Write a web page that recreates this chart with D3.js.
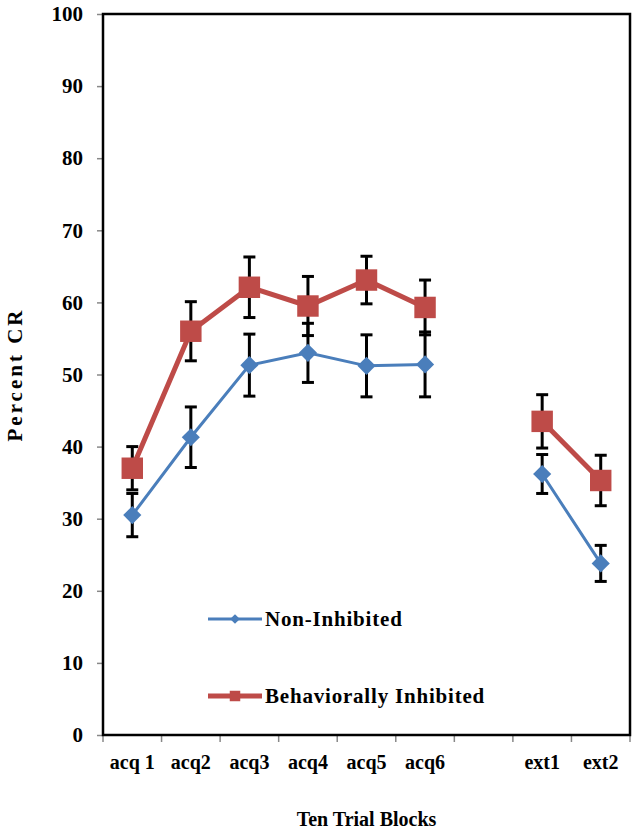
<!DOCTYPE html>
<html>
<head>
<meta charset="utf-8">
<script src="https://cdn.jsdelivr.net/npm/d3@7"></script>
<style>
  body { margin: 0; background: #fff; }
  text { font-family: "Liberation Serif", "DejaVu Serif", serif; font-weight: bold; fill: #000; }
</style>
</head>
<body>
<div id="chart-area"></div>
<script>
// Data
const categories = ["acq 1", "acq2", "acq3", "acq4", "acq5", "acq6", "", "ext1", "ext2"];
const nonInhibited = [30.5, 41.3, 51.3, 53.0, 51.2, 51.4, null, 36.2, 23.8];
const nonInhibitedErr = [3.0, 4.2, 4.3, 4.1, 4.3, 4.5, null, 2.7, 2.5];
const inhibited = [37.0, 56.0, 62.1, 59.5, 63.1, 59.3, null, 43.5, 35.3];
const inhibitedErr = [3.0, 4.1, 4.2, 4.1, 3.3, 3.8, null, 3.7, 3.5];
const yTicks = [0, 10, 20, 30, 40, 50, 60, 70, 80, 90, 100];

const width = 638, height = 833;
const margin = { top: 14, right: 8, bottom: 98, left: 103 };
const innerW = width - margin.left - margin.right;
const innerH = height - margin.top - margin.bottom;

const svg = d3.select("#chart-area").append("svg")
    .attr("width", width)
    .attr("height", height);

const g = svg.append("g")
    .attr("transform", `translate(${margin.left},${margin.top})`);

// Scales
const x = d3.scaleBand().domain(d3.range(categories.length)).range([0, innerW]);
const y = d3.scaleLinear().domain([0, 100]).range([innerH, 0]);
const cx = i => x(i) + x.bandwidth() / 2;

// Axes
const yAxis = g.append("g")
    .call(d3.axisLeft(y).tickValues(yTicks).tickSize(6).tickPadding(14));
const xAxis = g.append("g")
    .attr("transform", `translate(0,${innerH})`)
    .call(d3.axisBottom(x).tickSize(0).tickFormat(i => categories[i]).tickPadding(20));

yAxis.select(".domain").remove();
xAxis.select(".domain").remove();
yAxis.selectAll("text").style("font-size", "21px");
xAxis.selectAll("text").style("font-size", "20px");
yAxis.selectAll("line").attr("stroke", "#888").attr("stroke-width", 1.5);

// tick marks between categories on x axis
g.append("g").selectAll("line")
    .data(d3.range(categories.length + 1))
    .enter().append("line")
    .attr("x1", i => i * x.step())
    .attr("x2", i => i * x.step())
    .attr("y1", innerH)
    .attr("y2", innerH + 7)
    .attr("stroke", "#888")
    .attr("stroke-width", 1.5);

// plot frame
g.append("rect")
    .attr("width", innerW).attr("height", innerH)
    .attr("fill", "none").attr("stroke", "#000").attr("stroke-width", 2.5);

// Series
const series = [
    { name: "Non-Inhibited", values: nonInhibited, err: nonInhibitedErr, color: "#4a7ebb", lw: 3, shape: "diamond" },
    { name: "Behaviorally Inhibited", values: inhibited, err: inhibitedErr, color: "#be4b48", lw: 5, shape: "square" }
];

// error bars
series.forEach(s => {
    const eb = g.append("g");
    s.values.forEach((v, i) => {
        if (v == null) return;
        const e = s.err[i];
        eb.append("line")
            .attr("x1", cx(i)).attr("x2", cx(i))
            .attr("y1", y(v - e)).attr("y2", y(v + e))
            .attr("stroke", "#000").attr("stroke-width", 3);
        [v - e, v + e].forEach(t => {
            eb.append("line")
                .attr("x1", cx(i) - 6).attr("x2", cx(i) + 6)
                .attr("y1", y(t)).attr("y2", y(t))
                .attr("stroke", "#000").attr("stroke-width", 3);
        });
    });
});

const line = d3.line()
    .defined(d => d.v != null)
    .x(d => cx(d.i))
    .y(d => y(d.v));

series.forEach(s => {
    const pts = s.values.map((v, i) => ({ i, v }));
    g.append("path")
        .datum(pts)
        .attr("fill", "none")
        .attr("stroke", s.color)
        .attr("stroke-width", s.lw)
        .attr("d", line);

    const sym = s.shape === "diamond"
        ? d3.symbol().type(d3.symbolDiamond2).size(210)
        : d3.symbol().type(d3.symbolSquare).size(460);

    g.selectAll(null)
        .data(pts.filter(d => d.v != null))
        .enter().append("path")
        .attr("transform", d => `translate(${cx(d.i)},${y(d.v)})`)
        .attr("d", sym)
        .attr("fill", s.color);
});

// Legend
const legend = svg.append("g");
const legendY = [619, 696];
series.forEach((s, k) => {
    const lg = legend.append("g").attr("transform", `translate(208,${legendY[k]})`);
    lg.append("line")
        .attr("x1", 0).attr("x2", 54)
        .attr("stroke", s.color).attr("stroke-width", s.lw);
    lg.append("path")
        .attr("transform", "translate(27,0)")
        .attr("d", s.shape === "diamond"
            ? d3.symbol().type(d3.symbolDiamond2).size(60)()
            : d3.symbol().type(d3.symbolSquare).size(110)())
        .attr("fill", s.color);
    lg.append("text")
        .attr("x", 57).attr("y", 7)
        .style("font-size", "21px")
        .style("letter-spacing", "0.8px")
        .text(s.name);
});

// Axis titles
svg.append("text")
    .attr("transform", `translate(22,${margin.top + innerH / 2}) rotate(-90)`)
    .attr("text-anchor", "middle")
    .style("font-size", "21px")
    .style("letter-spacing", "3px")
    .text("Percent CR");

svg.append("text")
    .attr("x", margin.left + innerW / 2)
    .attr("y", 826)
    .attr("text-anchor", "middle")
    .style("font-size", "20px")
    .text("Ten Trial Blocks");
</script>
</body>
</html>
